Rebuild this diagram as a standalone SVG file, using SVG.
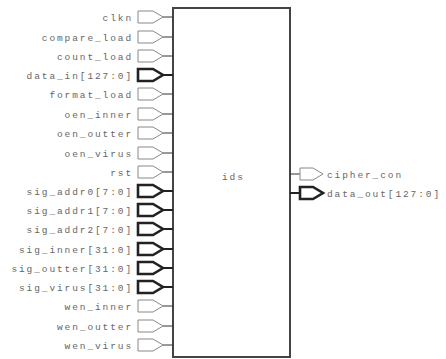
<svg xmlns="http://www.w3.org/2000/svg" width="446" height="359" viewBox="0 0 446 359">
  <defs>
    <style>
      .lbl { font-family: "Liberation Mono", "DejaVu Sans Mono", monospace; font-size: 9.5px; letter-spacing: 1.9px; fill: #666; }
      .in { text-anchor: end; }
      .port { fill: #fff; stroke: #888; stroke-width: 1; stroke-linejoin: miter; }
      .bus { fill: #fff; stroke: #222; stroke-width: 2.6; stroke-linejoin: miter; }
      .stub { stroke: #333; stroke-width: 1; }
      .stubbus { stroke: #222; stroke-width: 2; }
      .box { fill: #fff; stroke: #444; stroke-width: 2; }
    </style>
    <!-- port glyphs, pointing right, origin at the vertical centre -->
    <polygon id="pin" points="138,-6 153,-6 163,0 153,6 138,6"/>
    <polygon id="pout" points="300,-6 313,-6 323,0 313,6 300,6"/>
  </defs>

  <g id="ids">
    <rect class="box" x="173" y="8" width="117" height="349"/>
    <text class="lbl" x="222" y="180">ids</text>
  </g>

  <g id="connectors">
    <line class="stub" x1="163" y1="17" x2="173" y2="17"/>
    <line class="stub" x1="163" y1="37" x2="173" y2="37"/>
    <line class="stub" x1="163" y1="56" x2="173" y2="56"/>
    <line class="stubbus" x1="163" y1="75" x2="173" y2="75"/>
    <line class="stub" x1="163" y1="94" x2="173" y2="94"/>
    <line class="stub" x1="163" y1="114" x2="173" y2="114"/>
    <line class="stub" x1="163" y1="133" x2="173" y2="133"/>
    <line class="stub" x1="163" y1="153" x2="173" y2="153"/>
    <line class="stub" x1="163" y1="172" x2="173" y2="172"/>
    <line class="stubbus" x1="163" y1="191" x2="173" y2="191"/>
    <line class="stubbus" x1="163" y1="210" x2="173" y2="210"/>
    <line class="stubbus" x1="163" y1="229" x2="173" y2="229"/>
    <line class="stubbus" x1="163" y1="249" x2="173" y2="249"/>
    <line class="stubbus" x1="163" y1="268" x2="173" y2="268"/>
    <line class="stubbus" x1="163" y1="287" x2="173" y2="287"/>
    <line class="stub" x1="163" y1="306" x2="173" y2="306"/>
    <line class="stub" x1="163" y1="326" x2="173" y2="326"/>
    <line class="stub" x1="163" y1="345" x2="173" y2="345"/>
    <line class="stub" x1="290" y1="174" x2="300" y2="174"/>
    <line class="stubbus" x1="290" y1="193" x2="300" y2="193"/>
  </g>

  <g id="in_clkn"><use href="#pin" class="port" y="17"/><text class="lbl in" x="133" y="21">clkn</text></g>
  <g id="in_compare_load"><use href="#pin" class="port" y="37"/><text class="lbl in" x="133" y="41">compare_load</text></g>
  <g id="in_count_load"><use href="#pin" class="port" y="56"/><text class="lbl in" x="133" y="60">count_load</text></g>
  <g id="in_data_in"><use href="#pin" class="bus" y="75"/><text class="lbl in" x="133" y="79">data_in[127:0]</text></g>
  <g id="in_format_load"><use href="#pin" class="port" y="94"/><text class="lbl in" x="133" y="98">format_load</text></g>
  <g id="in_oen_inner"><use href="#pin" class="port" y="114"/><text class="lbl in" x="133" y="118">oen_inner</text></g>
  <g id="in_oen_outter"><use href="#pin" class="port" y="133"/><text class="lbl in" x="133" y="137">oen_outter</text></g>
  <g id="in_oen_virus"><use href="#pin" class="port" y="153"/><text class="lbl in" x="133" y="157">oen_virus</text></g>
  <g id="in_rst"><use href="#pin" class="port" y="172"/><text class="lbl in" x="133" y="176">rst</text></g>
  <g id="in_sig_addr0"><use href="#pin" class="bus" y="191"/><text class="lbl in" x="133" y="195">sig_addr0[7:0]</text></g>
  <g id="in_sig_addr1"><use href="#pin" class="bus" y="210"/><text class="lbl in" x="133" y="214">sig_addr1[7:0]</text></g>
  <g id="in_sig_addr2"><use href="#pin" class="bus" y="229"/><text class="lbl in" x="133" y="233">sig_addr2[7:0]</text></g>
  <g id="in_sig_inner"><use href="#pin" class="bus" y="249"/><text class="lbl in" x="133" y="253">sig_inner[31:0]</text></g>
  <g id="in_sig_outter"><use href="#pin" class="bus" y="268"/><text class="lbl in" x="133" y="272">sig_outter[31:0]</text></g>
  <g id="in_sig_virus"><use href="#pin" class="bus" y="287"/><text class="lbl in" x="133" y="291">sig_virus[31:0]</text></g>
  <g id="in_wen_inner"><use href="#pin" class="port" y="306"/><text class="lbl in" x="133" y="310">wen_inner</text></g>
  <g id="in_wen_outter"><use href="#pin" class="port" y="326"/><text class="lbl in" x="133" y="330">wen_outter</text></g>
  <g id="in_wen_virus"><use href="#pin" class="port" y="345"/><text class="lbl in" x="133" y="349">wen_virus</text></g>

  <g id="out_cipher_con"><use href="#pout" class="port" y="174"/><text class="lbl" x="327" y="178">cipher_con</text></g>
  <g id="out_data_out"><use href="#pout" class="bus" y="193"/><text class="lbl" x="327" y="197">data_out[127:0]</text></g>
</svg>
